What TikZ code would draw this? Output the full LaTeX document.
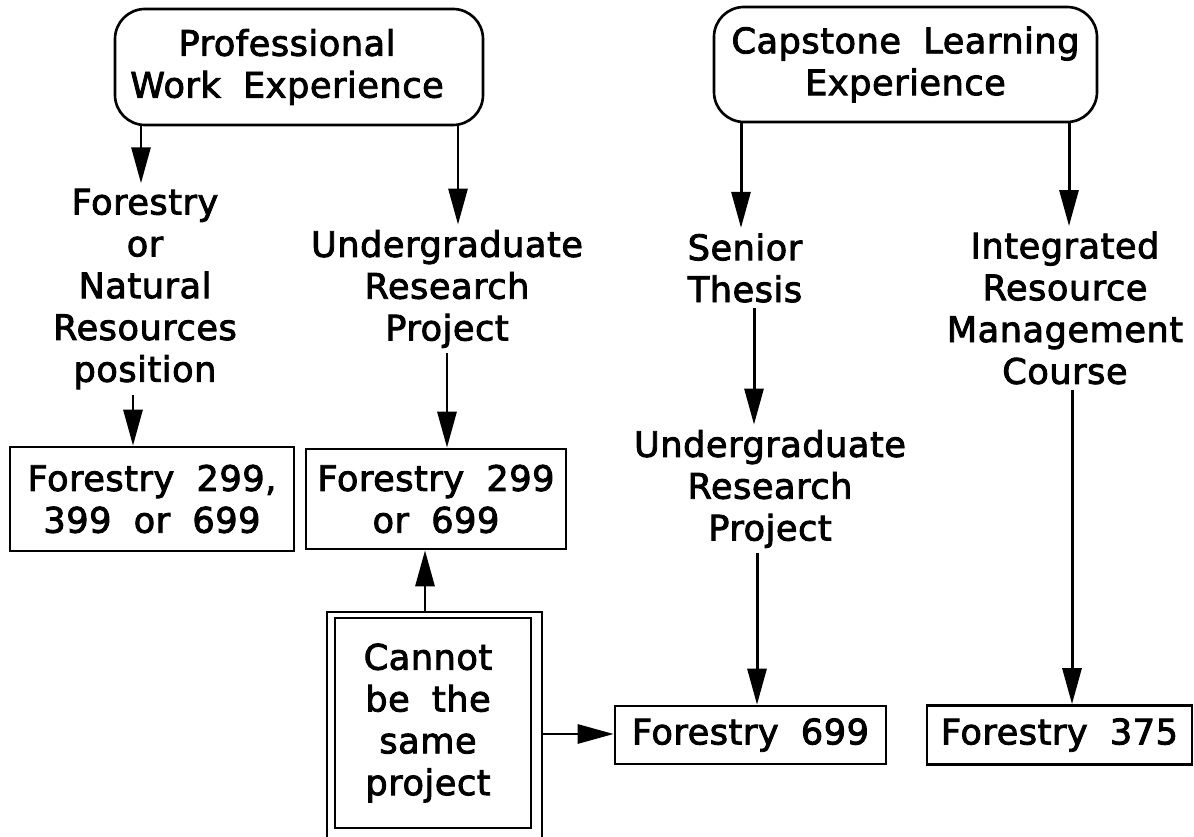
\documentclass[tikz,border=0pt]{standalone}
\usepackage{fontspec}
\setmainfont{DejaVu Sans}[WordSpace=1.9,LetterSpace=1.5,FakeBold=2.5]
\usetikzlibrary{arrows.meta}
\newdimen\pxu \pxu=0.02cm
\begin{document}
\begin{tikzpicture}[x=0.02cm,y=-0.02cm,
  every node/.style={font=\fontsize{20pt}{23.8pt}\selectfont},
  lbl/.style={align=center, inner sep=3pt},
  rbox/.style={draw, line width=1.5pt, rounded corners=0.6cm, align=center, inner sep=0pt},
  fbox/.style={draw, line width=1.5pt, align=center, inner sep=0pt},
  arr/.style={line width=1.7pt, -{Triangle[length=0.72cm,width=0.38cm]}}]
\useasboundingbox (0,0) rectangle (1194,837);
\fill[white] (0,0) rectangle (1194,837);
\clip (0,0) rectangle (1194,837);

\node[rbox, minimum width=368\pxu, minimum height=116\pxu] (pwe) at (299,67) {\hspace*{-24\pxu}Professional\\\hspace*{-24\pxu}Work Experience};
\node[rbox, minimum width=383\pxu, minimum height=115\pxu] (cle) at (905.5,64.5) {Capstone Learning\\Experience};

\node[lbl] (fnr) at (145,289) {Forestry\\or\\Natural\\Resources\\position};
\node[lbl] (urp1) at (447,289) {Undergraduate\\Research\\Project};
\node[lbl] (st) at (745,268) {Senior\\Thesis};
\node[lbl] (irm) at (1065,308) {Integrated\\Resource\\Management\\Course};
\node[lbl] (urp2) at (770,489) {Undergraduate\\Research\\Project};

\node[fbox, minimum width=284\pxu, minimum height=104\pxu] (f1) at (152,499) {Forestry 299,\\399 or 699};
\node[fbox, minimum width=260\pxu, minimum height=100\pxu] (f2) at (436,499) {Forestry 299\\or 699};
\node[fbox, minimum width=271\pxu, minimum height=58\pxu] (f3) at (750.5,735) {Forestry 699};
\node[fbox, minimum width=265\pxu, minimum height=59\pxu] (f4) at (1059.5,735) {Forestry 375};

\node[fbox, minimum width=215\pxu, minimum height=233\pxu] (cno) at (434.5,728.5) {};
\node[fbox, minimum width=196\pxu, minimum height=210\pxu] (cn) at (433,723) {\hspace*{-10\pxu}Cannot\\\hspace*{-10\pxu}be the\\\hspace*{-10\pxu}same\\\hspace*{-10\pxu}project};

\draw[arr] (pwe.south -| 141,0) -- (fnr.north -| 141,0);
\draw[arr] (pwe.south -| 458,0) -- (urp1.north -| 458,0);
\draw[arr] (fnr.south -| 133,0) -- (f1.north -| 133,0);
\draw[arr] (urp1.south -| 447,0) -- (f2.north -| 447,0);
\draw[arr] (cno.north -| 425,0) -- (f2.south -| 425,0);
\draw[arr] (cno.east |- 0,734) -- (f3.west |- 0,734);
\draw[arr] (cle.south -| 741,0) -- (st.north -| 741,0);
\draw[arr] (cle.south -| 1069,0) -- (irm.north -| 1069,0);
\draw[arr] (st.south -| 754,0) -- (urp2.north -| 754,0);
\draw[arr] (urp2.south -| 757,0) -- (f3.north -| 757,0);
\draw[arr] (irm.south -| 1072,0) -- (f4.north -| 1072,0);
\end{tikzpicture}
\end{document}
